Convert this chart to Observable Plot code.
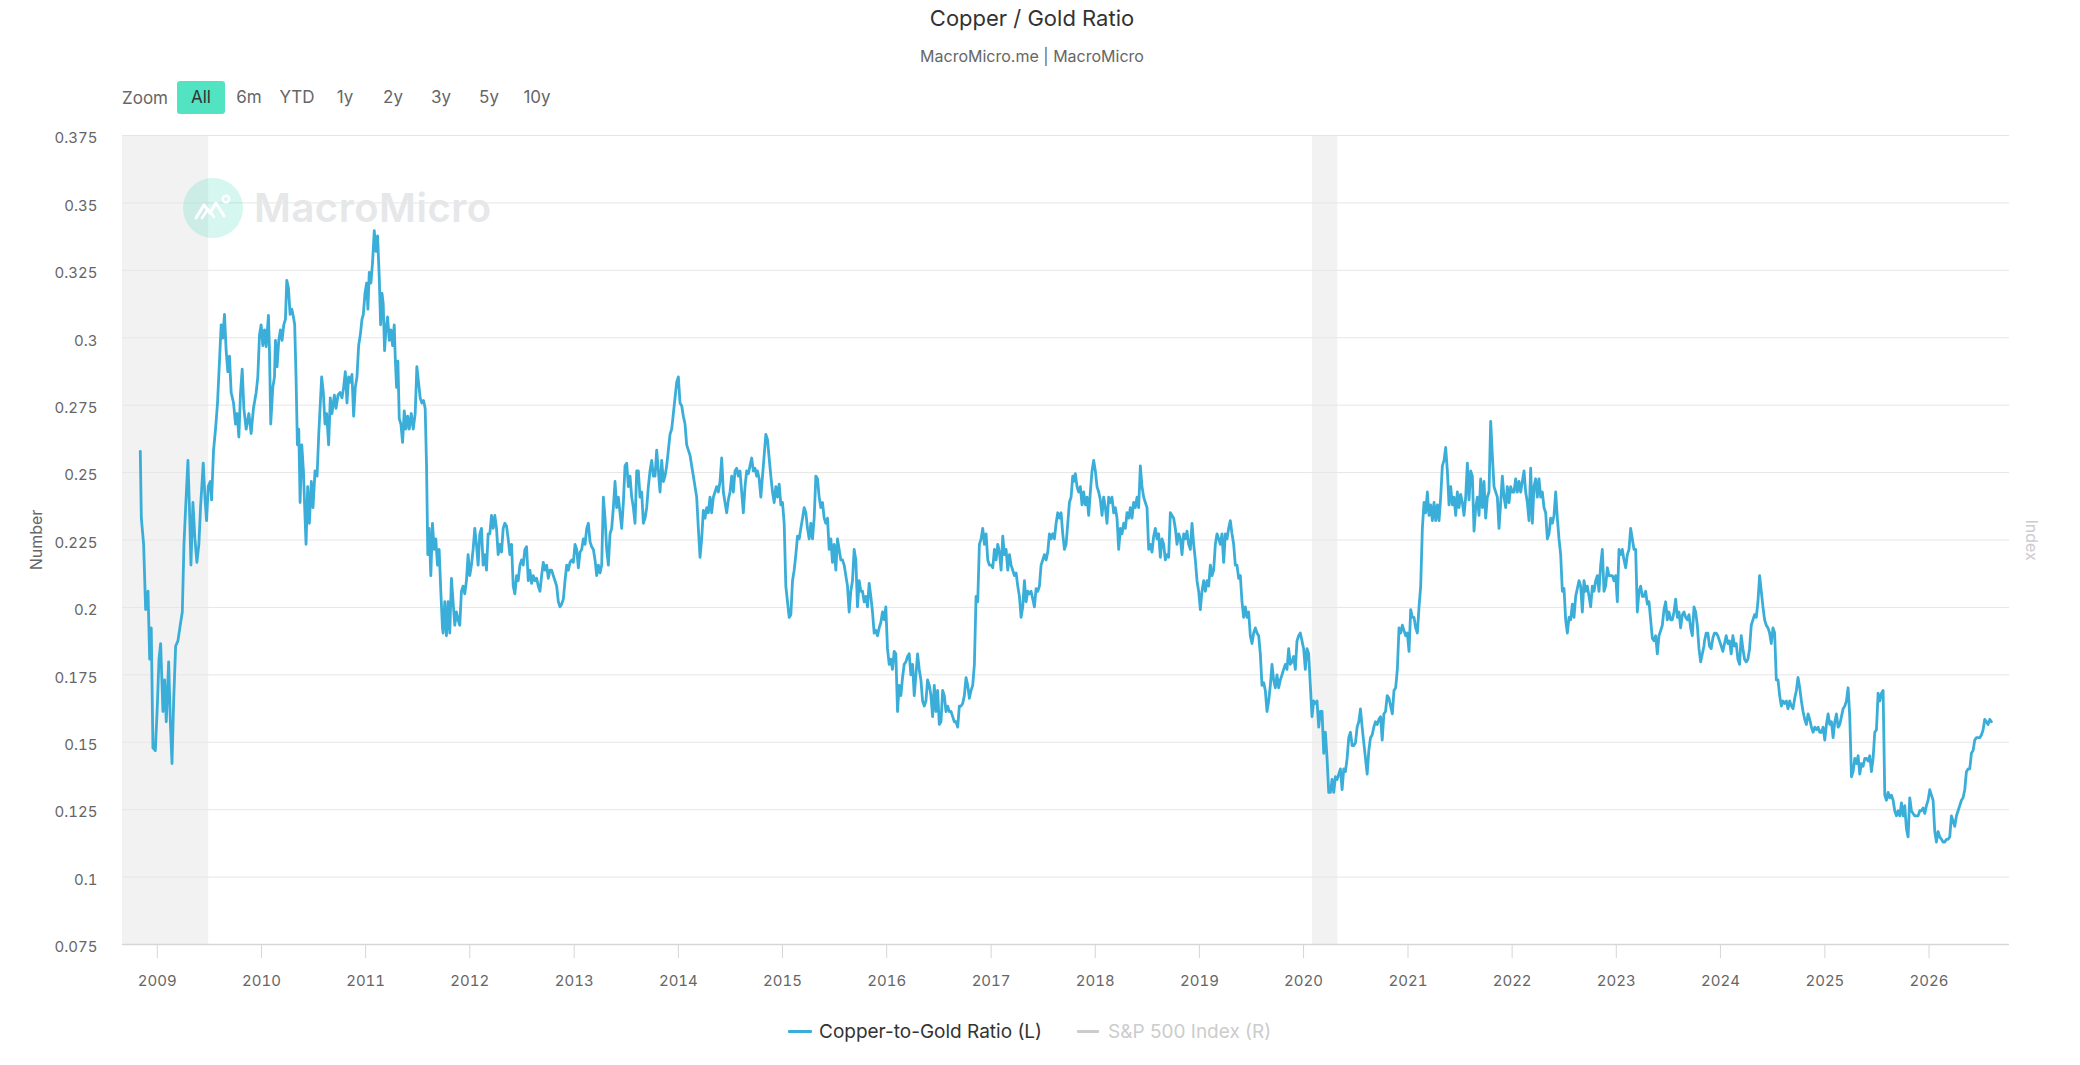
<!DOCTYPE html>
<html>
<head>
<meta charset="utf-8">
<script src="https://cdn.jsdelivr.net/npm/d3@7"></script>
<script src="https://cdn.jsdelivr.net/npm/@observablehq/plot@0.6"></script>
<style>
html,body{margin:0;padding:0;background:#fff;}
#wrap{position:relative;width:2080px;height:1065px;overflow:hidden;font-family:Inter,"Noto Sans",sans-serif;}
#header{position:relative;width:2080px;height:120px;}
.abs{position:absolute;line-height:1;white-space:nowrap;}
#title{left:1032px;top:7px;transform:translateX(-50%);font-size:22px;color:#333;}
#subtitle{left:1032px;top:48px;transform:translateX(-50%);font-size:16px;color:#666;}
#zoomLabel{left:122px;top:90px;font-size:17px;color:#666;}
.btn{position:absolute;top:81px;width:48px;height:33px;line-height:33px;text-align:center;font-size:17px;color:#666;border-radius:3px;}
.btn.active{background:#52e3c2;color:#333;}
#chart{position:relative;width:2080px;height:880px;}
#legend{position:relative;width:2080px;height:65px;}
.sym{position:absolute;top:30px;height:3px;border-radius:1px;}
.ltxt{position:absolute;top:22px;font-size:19px;line-height:1;white-space:nowrap;}
#wmCircle{position:absolute;left:183px;top:178px;width:60px;height:60px;border-radius:50%;background:rgba(64,220,180,0.22);}
#wmText{position:absolute;left:254px;top:188px;font-size:40px;font-weight:600;line-height:1;color:#e6e7e9;white-space:nowrap;letter-spacing:0.5px;}
</style>
</head>
<body>
<div id="wrap">
  <div id="header">
    <div id="title" class="abs"></div>
    <div id="subtitle" class="abs"></div>
    <div id="zoomLabel" class="abs">Zoom</div>
  </div>
  <div id="chart"></div>
  <div id="legend"></div>
  <div id="wmCircle"><svg width="60" height="60" viewBox="0 0 60 60"><polyline points="13,40 21,27 27,35 33,25 41,38" fill="none" stroke="#fff" stroke-width="3" stroke-linejoin="round" stroke-linecap="round"/><polyline points="19,40 25,31 31,39" fill="none" stroke="#fff" stroke-width="2.5" stroke-linejoin="round" stroke-linecap="round"/><circle cx="43" cy="21" r="3.2" fill="none" stroke="#fff" stroke-width="2.5"/></svg></div>
  <div id="wmText">MacroMicro</div>
</div>
<script>
// ---------- text ----------
const chartTitle = "Copper / Gold Ratio";
const chartSubtitle = "MacroMicro.me | MacroMicro";
const zoomButtons = ["All", "6m", "YTD", "1y", "2y", "3y", "5y", "10y"];
const legendItems = ["Copper-to-Gold Ratio (L)", "S&P 500 Index (R)"];
const leftAxisTitle = "Number";
const rightAxisTitle = "Index";

// ---------- ticks ----------
const yTicks = [0.075, 0.1, 0.125, 0.15, 0.175, 0.2, 0.225, 0.25, 0.275, 0.3, 0.325, 0.35, 0.375];
const xTickYears = [2009, 2010, 2011, 2012, 2013, 2014, 2015, 2016, 2017, 2018, 2019, 2020, 2021, 2022, 2023, 2024, 2025, 2026];

// ---------- recessions (shaded) ----------
const recessionStarts = ["2007-12-01", "2020-02-01"];
const recessionEnds = ["2009-06-30", "2020-04-30"];

// ---------- Copper-to-Gold ratio, late 2008 - 2011 (decimal years) ----------
const earlyDates = [
2008.837,2008.847,2008.869,2008.888,2008.911,2008.927,2008.942,2008.958,2008.981,2009.000,
2009.016,2009.032,2009.054,2009.070,2009.086,2009.109,2009.125,2009.141,2009.157,2009.176,
2009.198,2009.220,2009.240,2009.256,2009.272,2009.294,2009.310,2009.323,2009.342,2009.361,
2009.380,2009.399,2009.415,2009.441,2009.457,2009.473,2009.489,2009.508,2009.521,2009.540,
2009.559,2009.578,2009.597,2009.613,2009.629,2009.645,2009.661,2009.677,2009.693,2009.709,
2009.732,2009.751,2009.767,2009.783,2009.799,2009.815,2009.831,2009.853,2009.879,2009.901,
2009.923,2009.949,2009.965,2009.981,2009.997,2010.013,2010.029,2010.045,2010.067,2010.077,
2010.089,2010.109,2010.125,2010.134,2010.150,2010.166,2010.182,2010.198,2010.214,2010.230,
2010.243,2010.259,2010.275,2010.291,2010.307,2010.319,2010.332,2010.345,2010.358,2010.371,
2010.387,2010.403,2010.415,2010.428,2010.444,2010.460,2010.479,2010.495,2010.514,2010.534,
2010.550,2010.565,2010.578,2010.594,2010.610,2010.626,2010.645,2010.661,2010.677,2010.700,
2010.716,2010.735,2010.754,2010.773,2010.789,2010.805,2010.821,2010.837,2010.853,2010.869,
2010.885,2010.901,2010.917,2010.933,2010.949,2010.965,2010.978,2010.994,2011.010,2011.022,
2011.035,2011.051,2011.067,2011.083,2011.099,2011.115,2011.131,2011.144,2011.157,2011.169,
2011.182,2011.195,2011.211,2011.227,2011.243,2011.259,2011.275,2011.284,2011.297,2011.310,
2011.323,2011.339,2011.355,2011.371,2011.387,2011.403,2011.419,2011.438,2011.457,2011.476,
2011.492,2011.508,2011.524,2011.540,2011.556,2011.572,2011.585,2011.597,2011.610,2011.626,
2011.642,2011.658,2011.674,2011.690,2011.706,2011.722,2011.738];
const earlyRatio = [
0.2579,0.2331,0.2234,0.1992,0.2060,0.1808,0.1924,0.1479,0.1469,0.1634,
0.1808,0.1866,0.1614,0.1731,0.1576,0.1798,0.1576,0.1421,0.1653,0.1857,
0.1876,0.1934,0.1983,0.2234,0.2370,0.2545,0.2351,0.2157,0.2389,0.2254,
0.2167,0.2234,0.2370,0.2535,0.2409,0.2322,0.2448,0.2467,0.2399,0.2583,
0.2661,0.2758,0.2913,0.3048,0.2999,0.3087,0.2952,0.2874,0.2932,0.2797,
0.2758,0.2680,0.2719,0.2632,0.2797,0.2884,0.2738,0.2661,0.2719,0.2645,
0.2738,0.2797,0.2855,0.3010,0.3048,0.2971,0.3029,0.2967,0.3083,0.2952,
0.2680,0.2816,0.2855,0.2990,0.2893,0.2990,0.3029,0.2990,0.3048,0.3068,
0.3213,0.3184,0.3087,0.3106,0.3077,0.3048,0.2855,0.2603,0.2661,0.2389,
0.2603,0.2506,0.2370,0.2234,0.2448,0.2312,0.2467,0.2370,0.2506,0.2487,
0.2642,0.2758,0.2855,0.2797,0.2680,0.2719,0.2603,0.2777,0.2719,0.2787,
0.2738,0.2787,0.2797,0.2777,0.2816,0.2874,0.2758,0.2855,0.2835,0.2864,
0.2709,0.2816,0.2855,0.2971,0.3010,0.3068,0.3087,0.3165,0.3203,0.3106,
0.3242,0.3203,0.3281,0.3397,0.3320,0.3378,0.3223,0.3048,0.3165,0.3126,
0.2952,0.3029,0.3077,0.2990,0.3029,0.2971,0.3048,0.2932,0.2816,0.2913,
0.2700,0.2680,0.2612,0.2729,0.2661,0.2709,0.2661,0.2719,0.2661,0.2719,
0.2893,0.2835,0.2777,0.2758,0.2767,0.2738,0.2525,0.2196,0.2293,0.2118,
0.2312,0.2215,0.2254,0.2157,0.2215,0.2060,0.1924];

// ---------- later values, sampled every 0.016 year from each start ----------
const sampleStepYears = 0.016;
const ratioFrom2011 = [
0.1905,0.2021,0.1895,0.2021,0.1905,0.2108,0.2021,0.1934,0.1983,0.1954,
0.1934,0.2060,0.2079,0.2050,0.2099,0.2196,0.2118,0.2157,0.2215,0.2293,
0.2234,0.2157,0.2273,0.2293,0.2157,0.2196,0.2138,0.2273,0.2273,0.2341,
0.2293,0.2341,0.2293,0.2196,0.2234,0.2205,0.2293,0.2312,0.2302,0.2254,
0.2196,0.2234,0.2079,0.2050,0.2118,0.2099,0.2157,0.2176,0.2157,0.2215,
0.2225,0.2099,0.2138,0.2089,0.2118,0.2099,0.2108,0.2079,0.2060,0.2118,
0.2167,0.2138,0.2157,0.2108,0.2138,0.2138,0.2118,0.2099,0.2079,0.2021,
0.2002,0.2012,0.2031,0.2099,0.2157,0.2138,0.2167,0.2176,0.2167,0.2234,
0.2215,0.2147,0.2205,0.2215,0.2254,0.2234,0.2293,0.2312,0.2244,0.2225,
0.2215,0.2176,0.2118,0.2157,0.2128,0.2157,0.2409,0.2331,0.2215,0.2157,
0.2273,0.2293,0.2370,0.2467,0.2370,0.2409,0.2351,0.2293,0.2389,0.2525,
0.2535,0.2448,0.2487,0.2409,0.2370,0.2312,0.2506,0.2506,0.2409,0.2428,
0.2312,0.2331,0.2370,0.2448,0.2506,0.2545,0.2487,0.2487,0.2583,0.2506,
0.2428,0.2545,0.2467,0.2487,0.2525,0.2583,0.2642,0.2661,0.2719,0.2777,
0.2835,0.2855,0.2758,0.2748,0.2709,0.2680,0.2603,0.2583,0.2564,0.2525,
0.2487,0.2448,0.2409,0.2293,0.2186,0.2254,0.2360,0.2331,0.2370,0.2351,
0.2409,0.2351,0.2409,0.2428,0.2448,0.2428,0.2467,0.2554,0.2428,0.2389,
0.2351,0.2399,0.2428,0.2487,0.2428,0.2506,0.2516,0.2487,0.2506,0.2428,
0.2351,0.2448,0.2506,0.2496,0.2525,0.2554,0.2506,0.2516,0.2487];
const ratioFrom2014 = [
0.2506,0.2477,0.2409,0.2487,0.2564,0.2642,0.2622,0.2554,0.2487,0.2428,
0.2389,0.2448,0.2409,0.2457,0.2380,0.2389,0.2312,0.2079,0.2021,0.1963,
0.1973,0.2099,0.2138,0.2196,0.2264,0.2254,0.2293,0.2331,0.2370,0.2351,
0.2293,0.2254,0.2312,0.2254,0.2331,0.2487,0.2477,0.2409,0.2370,0.2389,
0.2331,0.2312,0.2331,0.2215,0.2254,0.2167,0.2234,0.2138,0.2254,0.2215,
0.2176,0.2176,0.2157,0.2118,0.2079,0.1983,0.2060,0.2099,0.2215,0.2176,
0.2002,0.2099,0.2060,0.2060,0.2021,0.2041,0.2002,0.2089,0.2041,0.1983,
0.1905,0.1915,0.1895,0.1924,0.1944,0.1983,0.1954,0.2002,0.1847,0.1789,
0.1808,0.1770,0.1837,0.1828,0.1614,0.1711,0.1673,0.1740,0.1789,0.1798,
0.1818,0.1828,0.1750,0.1789,0.1673,0.1750,0.1828,0.1770,0.1731,0.1653,
0.1634,0.1653,0.1731,0.1711,0.1673,0.1595,0.1711,0.1614,0.1692,0.1566,
0.1576,0.1692,0.1673,0.1614,0.1634,0.1614,0.1614,0.1595,0.1576,0.1576,
0.1556,0.1634,0.1634,0.1644,0.1673,0.1740,0.1711,0.1663,0.1692,0.1711,
0.1789,0.2041,0.2021,0.2234,0.2254,0.2293,0.2234,0.2273,0.2176,0.2157,
0.2157,0.2147,0.2215,0.2176,0.2234,0.2205,0.2138,0.2264,0.2196,0.2215,
0.2138,0.2196,0.2157,0.2138,0.2118,0.2128,0.2079,0.2041,0.1963,0.2002,
0.2099,0.2021,0.2060,0.2050,0.2060,0.2031,0.2002,0.2070,0.2060,0.2079,
0.2157,0.2176,0.2196,0.2176,0.2205,0.2273,0.2254,0.2273,0.2254,0.2312,
0.2351,0.2331,0.2351,0.2273,0.2215,0.2234,0.2312,0.2389,0.2409,0.2487];
const ratioFrom2017 = [
0.2467,0.2496,0.2448,0.2428,0.2448,0.2380,0.2428,0.2380,0.2409,0.2341,
0.2428,0.2506,0.2545,0.2506,0.2448,0.2428,0.2399,0.2341,0.2409,0.2370,
0.2312,0.2409,0.2389,0.2409,0.2351,0.2370,0.2331,0.2215,0.2293,0.2273,
0.2312,0.2293,0.2351,0.2331,0.2370,0.2331,0.2389,0.2370,0.2409,0.2370,
0.2525,0.2448,0.2409,0.2389,0.2370,0.2215,0.2234,0.2205,0.2264,0.2293,
0.2254,0.2273,0.2186,0.2254,0.2234,0.2176,0.2196,0.2186,0.2351,0.2341,
0.2331,0.2293,0.2234,0.2273,0.2254,0.2196,0.2273,0.2254,0.2283,0.2234,
0.2215,0.2312,0.2234,0.2176,0.2099,0.2060,0.1992,0.2060,0.2099,0.2060,
0.2099,0.2079,0.2157,0.2118,0.2138,0.2234,0.2273,0.2254,0.2234,0.2273,
0.2167,0.2273,0.2254,0.2293,0.2322,0.2273,0.2234,0.2157,0.2157,0.2108,
0.2118,0.2021,0.1963,0.2002,0.1963,0.1983,0.1895,0.1866,0.1905,0.1924,
0.1905,0.1895,0.1828,0.1711,0.1721,0.1692,0.1614,0.1653,0.1711,0.1789,
0.1731,0.1702,0.1750,0.1702,0.1731,0.1750,0.1770,0.1789,0.1770,0.1847,
0.1789,0.1798,0.1818,0.1770,0.1876,0.1895,0.1905,0.1876,0.1847,0.1770,
0.1847,0.1828,0.1711,0.1595,0.1653,0.1644,0.1653,0.1556,0.1614,0.1614,
0.1459,0.1537,0.1440,0.1314,0.1314,0.1362,0.1314,0.1372,0.1362,0.1382,
0.1401,0.1324,0.1401,0.1391,0.1440,0.1517,0.1537,0.1488,0.1488,0.1498,
0.1556,0.1576,0.1624,0.1556,0.1498,0.1440,0.1382,0.1469,0.1517,0.1527,
0.1556,0.1576,0.1566,0.1585,0.1595,0.1508,0.1605,0.1614,0.1673];
const ratioFrom2020 = [
0.1663,0.1634,0.1605,0.1692,0.1702,0.1770,0.1924,0.1905,0.1934,0.1914,
0.1895,0.1905,0.1837,0.1992,0.1963,0.1963,0.1924,0.1905,0.2002,0.2079,
0.2293,0.2389,0.2351,0.2428,0.2341,0.2380,0.2322,0.2389,0.2322,0.2380,
0.2322,0.2409,0.2525,0.2545,0.2593,0.2506,0.2380,0.2448,0.2380,0.2409,
0.2341,0.2428,0.2370,0.2419,0.2389,0.2341,0.2409,0.2535,0.2399,0.2506,
0.2487,0.2283,0.2370,0.2409,0.2341,0.2477,0.2370,0.2467,0.2331,0.2409,
0.2428,0.2690,0.2564,0.2448,0.2428,0.2409,0.2293,0.2389,0.2487,0.2409,
0.2370,0.2448,0.2389,0.2448,0.2428,0.2428,0.2477,0.2428,0.2467,0.2428,
0.2467,0.2506,0.2428,0.2389,0.2322,0.2516,0.2312,0.2448,0.2477,0.2409,
0.2477,0.2409,0.2428,0.2370,0.2351,0.2254,0.2273,0.2331,0.2312,0.2341,
0.2428,0.2331,0.2254,0.2196,0.2060,0.2070,0.1954,0.1905,0.1963,0.1954,
0.2012,0.1963,0.2041,0.2070,0.2099,0.2079,0.1983,0.2099,0.2060,0.2079,
0.2041,0.2002,0.2079,0.2060,0.2099,0.2118,0.2060,0.2157,0.2215,0.2060,
0.2079,0.2147,0.2118,0.2118,0.2118,0.2099,0.2118,0.2021,0.2215,0.2196,
0.2215,0.2176,0.2147,0.2196,0.2215,0.2293,0.2254,0.2215,0.2215,0.1983,
0.2060,0.2079,0.2041,0.2041,0.2060,0.2012,0.2021,0.1954,0.1886,0.1876,
0.1895,0.1828,0.1895,0.1914,0.1934,0.1992,0.2021,0.1954,0.1983,0.1954,
0.1954,0.1983,0.2031,0.1963,0.1983,0.1924,0.1973,0.1983,0.1963,0.1954,
0.1973,0.1924,0.1895,0.2002,0.1983,0.1934,0.1847,0.1798,0.1828,0.1857];
const ratioFrom2023 = [
0.1876,0.1905,0.1905,0.1857,0.1847,0.1886,0.1905,0.1905,0.1895,0.1876,
0.1857,0.1837,0.1866,0.1895,0.1866,0.1876,0.1828,0.1895,0.1857,0.1866,
0.1808,0.1789,0.1895,0.1847,0.1808,0.1798,0.1808,0.1847,0.1934,0.1954,
0.1973,0.1963,0.2021,0.2118,0.2060,0.2002,0.1954,0.1934,0.1924,0.1905,
0.1866,0.1924,0.1905,0.1731,0.1731,0.1673,0.1634,0.1653,0.1644,0.1653,
0.1624,0.1653,0.1634,0.1624,0.1663,0.1692,0.1740,0.1702,0.1653,0.1614,
0.1585,0.1566,0.1605,0.1585,0.1556,0.1537,0.1556,0.1546,0.1556,0.1537,
0.1537,0.1556,0.1508,0.1566,0.1605,0.1566,0.1576,0.1517,0.1576,0.1605,
0.1556,0.1566,0.1595,0.1624,0.1634,0.1653,0.1702,0.1595,0.1372,0.1391,
0.1440,0.1421,0.1450,0.1382,0.1421,0.1411,0.1440,0.1440,0.1430,0.1450,
0.1391,0.1440,0.1537,0.1546,0.1682,0.1653,0.1682,0.1692,0.1304,0.1285,
0.1314,0.1294,0.1304,0.1285,0.1246,0.1227,0.1246,0.1227,0.1275,0.1227,
0.1265,0.1178,0.1149,0.1294,0.1246,0.1236,0.1227,0.1227,0.1227,0.1246,
0.1246,0.1256,0.1236,0.1265,0.1285,0.1324,0.1304,0.1285,0.1169,0.1130,
0.1169,0.1149,0.1140,0.1130,0.1130,0.1140,0.1140,0.1149,0.1227,0.1207,
0.1188,0.1227,0.1246,0.1265,0.1285,0.1294,0.1324,0.1391,0.1401,0.1401,
0.1459,0.1469,0.1508,0.1517,0.1517,0.1517,0.1527,0.1546,0.1585,0.1576,
0.1566,0.1585,0.1576];
const segmentStarts = [2011.744, 2014.760, 2017.793, 2020.818, 2023.847];
const segmentValues = [ratioFrom2011, ratioFrom2014, ratioFrom2017, ratioFrom2020, ratioFrom2023];

// ---------- build ----------
const toDate = t => { const y = Math.floor(t), a = Date.UTC(y, 0, 1), b = Date.UTC(y + 1, 0, 1); return new Date(a + (t - y) * (b - a)); };
const series = [];
earlyDates.forEach((t, i) => series.push({date: toDate(t), value: earlyRatio[i]}));
segmentStarts.forEach((s, k) => segmentValues[k].forEach((v, i) => series.push({date: toDate(s + i * sampleStepYears), value: v})));
const recessions = recessionStarts.map((s, i) => ({start: new Date(s), end: new Date(recessionEnds[i])}));
const xTicks = xTickYears.map(y => new Date(Date.UTC(y, 0, 1)));

const lineColor = "#3aaed8";

document.getElementById("title").textContent = chartTitle;
document.getElementById("subtitle").textContent = chartSubtitle;
const header = document.getElementById("header");
zoomButtons.forEach((b, i) => {
  const d = document.createElement("div");
  d.className = "btn" + (i === 0 ? " active" : "");
  d.style.left = (177 + 48 * i) + "px";
  d.textContent = b;
  header.appendChild(d);
});
const legend = document.getElementById("legend");
legend.innerHTML =
  `<div class="sym" style="left:788px;width:24px;background:${lineColor}"></div>` +
  `<div class="ltxt" style="left:819px;color:#333"></div>` +
  `<div class="sym" style="left:1077px;width:22px;background:#cccccc"></div>` +
  `<div class="ltxt" style="left:1108px;color:#cccccc"></div>`;
const lt = legend.querySelectorAll(".ltxt");
lt[0].textContent = legendItems[0];
lt[1].textContent = legendItems[1];

const chart = Plot.plot({
  width: 2080,
  height: 880,
  marginLeft: 122,
  marginRight: 71,
  marginTop: 15,
  marginBottom: 56,
  style: {fontFamily: "Inter, 'Noto Sans', sans-serif", background: "transparent", overflow: "visible"},
  x: {type: "utc", domain: [new Date("2008-09-01"), new Date("2026-10-10")], label: null},
  y: {domain: [0.075, 0.375], label: null},
  marks: [
    Plot.rect(recessions, {x1: "start", x2: "end", fill: "#f2f2f2", clip: true}),
    Plot.gridY(yTicks, {stroke: "#e6e6e6", strokeOpacity: 1, strokeWidth: 1}),
    Plot.ruleY([0.075], {stroke: "#d6d6d6", strokeWidth: 1.5}),
    Plot.axisX({ticks: xTicks, tickFormat: "%Y", tickSize: 14, tickPadding: 17, stroke: "#d6d6d6", fill: "#666", fontSize: 15, label: null}),
    Plot.axisY({ticks: yTicks, tickFormat: d => String(d), tickSize: 0, tickPadding: 25, fill: "#666", fontSize: 15, dy: 3, label: null}),
    Plot.lineY(series, {x: "date", y: "value", stroke: lineColor, strokeWidth: 2.8, strokeLinejoin: "round"}),
    Plot.text([leftAxisTitle], {frameAnchor: "left", dx: -86, rotate: -90, textAnchor: "middle", fill: "#666", fontSize: 16}),
    Plot.text([rightAxisTitle], {frameAnchor: "right", dx: 22, rotate: 90, textAnchor: "middle", fill: "#cccccc", fontSize: 16})
  ]
});
document.getElementById("chart").appendChild(chart);
</script>
</body>
</html>
